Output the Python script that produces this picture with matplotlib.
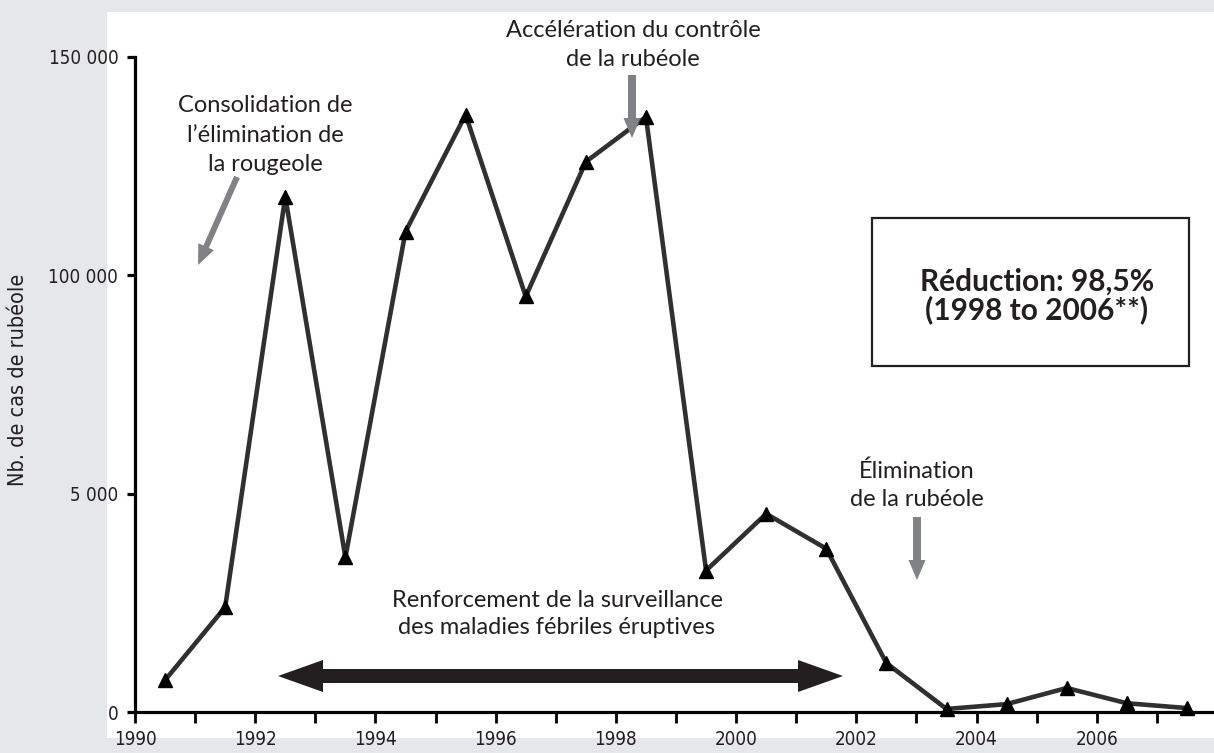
import numpy as np
import matplotlib
matplotlib.use("Agg")
import matplotlib.pyplot as plt
from matplotlib.patches import Rectangle, FancyArrowPatch
from matplotlib import font_manager

# rubella cases per year (plotted mid-year)
years = [1990.5, 1991.5, 1992.5, 1993.5, 1994.5, 1995.5, 1996.5, 1997.5, 1998.5,
         1999.5, 2000.5, 2001.5, 2002.5, 2003.5, 2004.5, 2005.5, 2006.5, 2007.5]
cases = [730, 2400, 118000, 3540, 110000, 136800, 90800, 126000, 136300,
         3240, 4540, 3740, 1120, 70, 180, 550, 200, 90]

ytick_vals = [0, 5000, 100000, 150000]
ytick_labels = ["0", "5 000", "100 000", "150 000"]
xtick_major = list(range(1990, 2007, 2))
xtick_minor = list(range(1990, 2008))

BG = "#e6e7e8"
INK = "#231f20"
GREY = "#808285"
TXT = ["Lato", "DejaVu Sans"]
NARROW = font_manager.FontProperties(family="DejaVu Sans", stretch="condensed", size=13.5)

W, H = 1214, 753
fig = plt.figure(figsize=(W / 100, H / 100), dpi=100, facecolor=BG)


def fp(x, y):
    """pixel position (from top-left) -> figure fraction"""
    return x / W, 1 - y / H


# white panel
fig.patches.append(Rectangle(fp(107, 738), (W - 107) / W, (738 - 12) / H,
                             transform=fig.transFigure, facecolor="white",
                             edgecolor="none", zorder=-5))

l, b = fp(135, 712)
_, t = fp(135, 57)
ax = fig.add_axes([l, b, 1 - l, t - b])
ax.set_facecolor("none")

# broken y axis: each tick interval gets the same height
def fwd(v):
    return np.interp(v, ytick_vals, [0, 1, 2, 3])

def inv(v):
    return np.interp(v, [0, 1, 2, 3], ytick_vals)

ax.set_yscale("function", functions=(fwd, inv))
ax.set_ylim(0, 150000)
ax.set_xlim(1990, 2007.95)

ax.plot(years, cases, color="#303030", lw=3.3, marker="^", ms=9.5,
        mfc="black", mec="black", zorder=3, clip_on=False)

for s in ["top", "right"]:
    ax.spines[s].set_visible(False)
for s in ["left", "bottom"]:
    ax.spines[s].set_linewidth(2.3)
    ax.spines[s].set_color("black")

ax.set_yticks(ytick_vals)
ax.set_yticklabels(ytick_labels, fontproperties=NARROW, color=INK)
ax.yaxis.set_minor_locator(matplotlib.ticker.NullLocator())
ax.tick_params(axis="y", direction="out", length=6, width=2.3, pad=6)

ax.set_xticks(xtick_major)
ax.set_xticklabels([str(y) for y in xtick_major], fontproperties=NARROW, color=INK)
ax.set_xticks(xtick_minor, minor=True)
ax.tick_params(axis="x", which="both", direction="out", length=8, width=2, pad=5)

ylab = NARROW.copy()
ylab.set_size(15.5)
fig.text(*fp(18, 380), "Nb. de cas de rubéole", rotation=90, ha="center", va="center",
         fontproperties=ylab, color=INK)

# annotations
fig.text(*fp(265, 135), "Consolidation de\nl’élimination de\nla rougeole",
         ha="center", va="center", family=TXT, fontsize=17, color=INK, linespacing=1.5)
fig.text(*fp(633, 45), "Accélération du contrôle\nde la rubéole",
         ha="center", va="center", family=TXT, fontsize=17, color=INK, linespacing=1.45)
fig.text(*fp(917, 485), "Élimination\nde la rubéole",
         ha="center", va="center", family=TXT, fontsize=17, color=INK, linespacing=1.4)
fig.text(*fp(557, 614), "Renforcement de la surveillance\ndes maladies fébriles éruptives",
         ha="center", va="center", family=TXT, fontsize=17, color=INK, linespacing=1.4)


def arrow(p0, p1, color, tail, head_w, head_l):
    k = 72 / 100
    style = "simple,head_length=%.2f,head_width=%.2f,tail_width=%.2f" % (
        head_l * k, head_w * k, tail * k)
    fig.patches.append(FancyArrowPatch(fp(*p0), fp(*p1), transform=fig.transFigure,
                                       arrowstyle=style, mutation_scale=1,
                                       shrinkA=0, shrinkB=0, color=color, lw=0,
                                       zorder=5))


arrow((237, 177), (198, 265), GREY, 6, 17, 20)
arrow((632, 75), (632, 138), GREY, 8, 17, 20)
arrow((917, 517), (917, 580), GREY, 8, 17, 20)
arrow((560, 676), (278, 676), INK, 14, 32, 45)
arrow((560, 676), (843, 676), INK, 14, 32, 45)

# reduction box
x0, y0 = fp(872, 366)
fig.patches.append(Rectangle((x0, y0), (1189 - 872) / W, (366 - 218) / H,
                             transform=fig.transFigure, facecolor="white",
                             edgecolor=INK, lw=1.6, zorder=4))
fig.text(*fp(1037, 296), "Réduction: 98,5%\n(1998 to 2006**)", ha="center", va="center",
         family=TXT, fontsize=21.5, fontweight="bold", color=INK, linespacing=1.0, zorder=6)

fig.savefig("out.png", dpi=100, facecolor=BG)
